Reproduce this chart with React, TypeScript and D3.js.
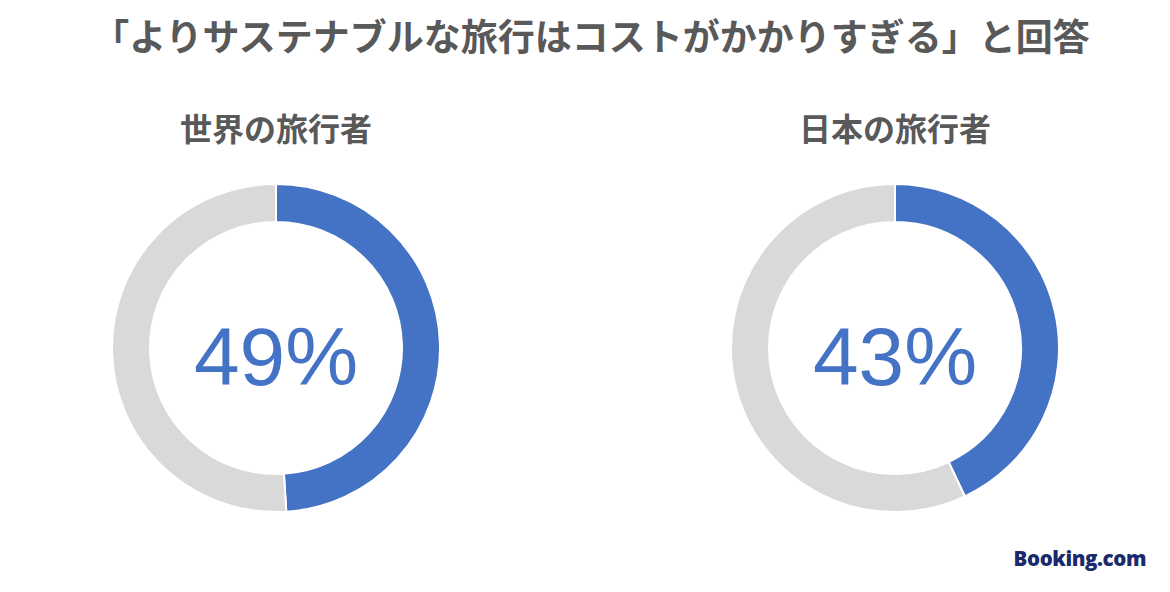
import React from 'react';
import * as d3 from 'd3';

const groups = ['世界の旅行者', '日本の旅行者'];
const values = [49, 43];
const title = '「よりサステナブルな旅行はコストがかかりすぎる」と回答';

const width = 1170;
const height = 592;

const Donut: React.FC<{ label: string; value: number; cx: number; cy: number }> = ({ label, value, cx, cy }) => {
  const pie = d3.pie<number>().sort(null).value(d => d);
  const arcs = pie([value, 100 - value]);
  const arc = d3.arc<d3.PieArcDatum<number>>().innerRadius(126).outerRadius(164);
  const colors = ['#4472C4', '#D9D9D9'];

  return (
    <g transform={`translate(${cx},${cy})`}>
      <text
        y={-207}
        textAnchor="middle"
        fontSize={32}
        fontWeight="bold"
        fill="#595959"
        fontFamily="'Noto Sans CJK JP', sans-serif"
      >
        {label}
      </text>
      {arcs.map((a, i) => (
        <path key={i} d={arc(a) ?? ''} fill={colors[i]} stroke="#fff" strokeWidth={2} />
      ))}
      <text
        y={37}
        textAnchor="middle"
        fontSize={82}
        fill="#4472C4"
        fontFamily="'Liberation Sans', Arial, sans-serif"
      >
        {value}%
      </text>
    </g>
  );
};

export default function App() {
  const x = d3.scalePoint<string>().domain(groups).range([276, 895]);

  return (
    <svg width={width} height={height} style={{ position: 'absolute', left: 0, top: 0 }}>
      <rect width={width} height={height} fill="#fff" />
      <text
        x={591}
        y={51}
        textAnchor="middle"
        fontSize={37}
        fontWeight="bold"
        fill="#595959"
        fontFamily="'Noto Sans CJK JP', sans-serif"
      >
        {title}
      </text>
      {groups.map((g, i) => (
        <Donut key={g} label={g} value={values[i]} cx={x(g) ?? 0} cy={348} />
      ))}
      <text
        x={1146}
        y={566}
        textAnchor="end"
        fontSize={20.5}
        fontWeight={800}
        fill="#1B2A6B"
        fontFamily="'Open Sans', 'DejaVu Sans', sans-serif"
        letterSpacing={-0.4}
      >
        Booking.com
      </text>
    </svg>
  );
}
